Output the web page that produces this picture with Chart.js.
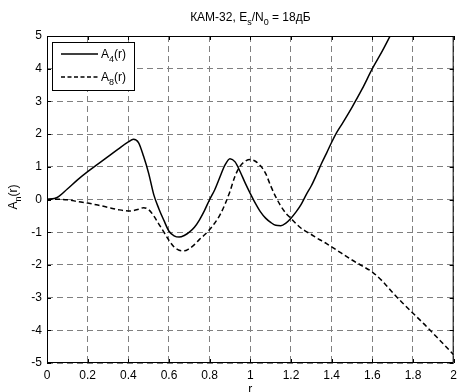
<!DOCTYPE html>
<html><head><meta charset="utf-8">
<script src="https://cdn.jsdelivr.net/npm/chart.js@4/dist/chart.umd.min.js"></script>
<style>html,body{margin:0;padding:0;background:#fff;overflow:hidden;}</style>
</head><body>
<canvas id="c" width="462" height="392" style="display:block;width:462px;height:392px"></canvas>
<script>
const rValues = [0,0.05,0.1,0.15,0.2,0.25,0.3,0.35,
  0.4,0.425,0.45,0.475,0.5,0.525,0.55,0.575,0.6,0.625,0.65,0.675,0.7,0.725,0.75,0.775,
  0.8,0.825,0.85,0.875,0.9,0.925,0.95,0.975,1.0,1.025,1.05,1.075,1.1,1.125,1.15,1.175,
  1.2,1.225,1.25,1.275,1.3,1.325,1.35,1.375,1.4,1.425,1.45,
  1.5,1.55,1.6,1.65,1.7,1.75,1.8,1.85,1.9,1.95,2.0];
const a4Values = [0,0.06,0.32,0.6,0.85,1.08,1.31,1.54,
  1.76,1.84,1.74,1.32,0.8,0.15,-0.28,-0.64,-0.97,-1.11,-1.15,-1.1,-1.0,-0.85,-0.62,-0.33,
  0.0,0.3,0.68,1.05,1.25,1.15,0.85,0.5,0.18,-0.12,-0.38,-0.57,-0.7,-0.79,-0.8,-0.72,
  -0.57,-0.38,-0.15,0.15,0.42,0.75,1.1,1.42,1.75,2.05,2.3,
  2.82,3.38,4.0,4.55,5.15,null,null,null,null,null,null];
const a8Values = [0,0.01,-0.01,-0.06,-0.11,-0.17,-0.24,-0.31,
  -0.35,-0.34,-0.3,-0.25,-0.31,-0.5,-0.75,-1.0,-1.25,-1.45,-1.55,-1.57,-1.5,-1.38,-1.22,-1.08,
  -0.92,-0.72,-0.48,-0.15,0.25,0.72,1.02,1.17,1.22,1.17,1.03,0.8,0.42,0.08,-0.2,-0.42,
  -0.58,-0.74,-0.88,-0.98,-1.07,-1.17,-1.26,-1.35,-1.45,-1.55,-1.65,
  -1.85,-2.03,-2.22,-2.5,-2.85,-3.17,-3.48,-3.78,-4.1,-4.42,-4.75];
const xTickLabels = ['0','0.2','0.4','0.6','0.8','1','1.2','1.4','1.6','1.8','2'];
const yTickLabels = ['-5','-4','-3','-2','-1','0','1','2','3','4','5'];
const titleParts = [{t:'КАМ-32, E'},{t:'s',sub:true},{t:'/N'},{t:'0',sub:true},{t:' = 18дБ'}];
const yLabelParts = [{t:'A'},{t:'n',sub:true},{t:'(r)'}];
const xLabelText = 'r';
const legendItems = [
  {parts:[{t:'A'},{t:'4',sub:true},{t:'(r)'}], dash:[]},
  {parts:[{t:'A'},{t:'8',sub:true},{t:'(r)'}], dash:[4,2.5]}
];

const FONT = '"Liberation Sans", Arial, sans-serif';
function drawRich(ctx, parts, x, y, align, size) {
  size = size || 12;
  const sub = Math.round(size * 0.75);
  let w = 0;
  parts.forEach(p => { ctx.font = (p.sub ? sub : size) + 'px ' + FONT; p.w = ctx.measureText(p.t).width; w += p.w; });
  let cx = align === 'center' ? x - w / 2 : x;
  ctx.textAlign = 'left'; ctx.textBaseline = 'alphabetic'; ctx.fillStyle = '#000';
  parts.forEach(p => { ctx.font = (p.sub ? sub : size) + 'px ' + FONT; ctx.fillText(p.t, cx, y + (p.sub ? 3.5 : 0)); cx += p.w; });
}

const decor = {
  id: 'decor',
  afterDraw(chart) {
    const ctx = chart.ctx, a = chart.chartArea, xs = chart.scales.x, ys = chart.scales.y;
    ctx.save();
    ctx.strokeStyle = '#000'; ctx.lineWidth = 1; ctx.setLineDash([]);
    ctx.strokeRect(a.left + 0.5, a.top + 0.5, a.right - a.left - 1, a.bottom - a.top - 1);
    ctx.beginPath();
    xs.ticks.forEach(t => {
      const px = Math.round(xs.getPixelForValue(t.value)) + 0.5;
      ctx.moveTo(px, a.bottom); ctx.lineTo(px, a.bottom - 4);
      ctx.moveTo(px, a.top); ctx.lineTo(px, a.top + 4);
    });
    ys.ticks.forEach(t => {
      const py = Math.round(ys.getPixelForValue(t.value)) + 0.5;
      ctx.moveTo(a.left, py); ctx.lineTo(a.left + 4, py);
      ctx.moveTo(a.right, py); ctx.lineTo(a.right - 4, py);
    });
    ctx.stroke();
    drawRich(ctx, titleParts, (a.left + a.right) / 2, 21, 'center', 12);
    ctx.font = '12px ' + FONT; ctx.textAlign = 'center'; ctx.fillStyle = '#000';
    ctx.fillText(xLabelText, (a.left + a.right) / 2, 393);
    ctx.save(); ctx.translate(17, 197); ctx.rotate(-Math.PI / 2);
    drawRich(ctx, yLabelParts, 0, 0, 'center', 12);
    ctx.restore();
    ctx.fillStyle = '#fff';
    ctx.fillRect(52.5, 42.5, 82, 48);
    ctx.strokeStyle = '#000'; ctx.lineWidth = 1;
    ctx.strokeRect(52.5, 42.5, 82, 48);
    legendItems.forEach((it, i) => {
      const ly = 54 + i * 23;
      ctx.save(); ctx.lineWidth = 1.5; ctx.setLineDash(it.dash);
      ctx.beginPath(); ctx.moveTo(61, ly); ctx.lineTo(98, ly); ctx.stroke(); ctx.restore();
      drawRich(ctx, it.parts, 101, ly + 4, 'left', 12);
    });
    ctx.restore();
  }
};

new Chart(document.getElementById('c'), {
  type: 'line',
  data: {
    datasets: [
      { label: 'A4(r)', data: rValues.map((r, i) => ({x: r, y: a4Values[i]})),
        borderColor: '#000', borderWidth: 1.5, pointRadius: 0, cubicInterpolationMode: 'monotone', fill: false, spanGaps: false },
      { label: 'A8(r)', data: rValues.map((r, i) => ({x: r, y: a8Values[i]})),
        borderColor: '#000', borderWidth: 1.5, borderDash: [5, 3], pointRadius: 0, cubicInterpolationMode: 'monotone', fill: false }
    ]
  },
  options: {
    responsive: false, animation: false, devicePixelRatio: 1,
    layout: { padding: { top: 36, right: 1, left: 0, bottom: 0 } },
    plugins: { legend: { display: false }, title: { display: false }, tooltip: { enabled: false } },
    scales: {
      x: { type: 'linear', min: 0, max: 2,
        ticks: { stepSize: 0.2, autoSkip: false, maxRotation: 0, padding: 5, color: '#000',
          font: { family: FONT, size: 12 }, callback: (v, i) => xTickLabels[i] },
        grid: { color: '#808080', lineWidth: 1, drawTicks: false },
        border: { display: false, dash: [6, 4] },
        afterFit: s => { s.height = 29; } },
      y: { type: 'linear', min: -5, max: 5,
        ticks: { stepSize: 1, autoSkip: false, padding: 5, color: '#000',
          font: { family: FONT, size: 12 }, callback: (v, i) => yTickLabels[i] },
        grid: { color: '#808080', lineWidth: 1, drawTicks: false },
        border: { display: false, dash: [6, 4] },
        afterFit: s => { s.width = 47; } }
    }
  },
  plugins: [decor]
});
</script>
</body></html>
